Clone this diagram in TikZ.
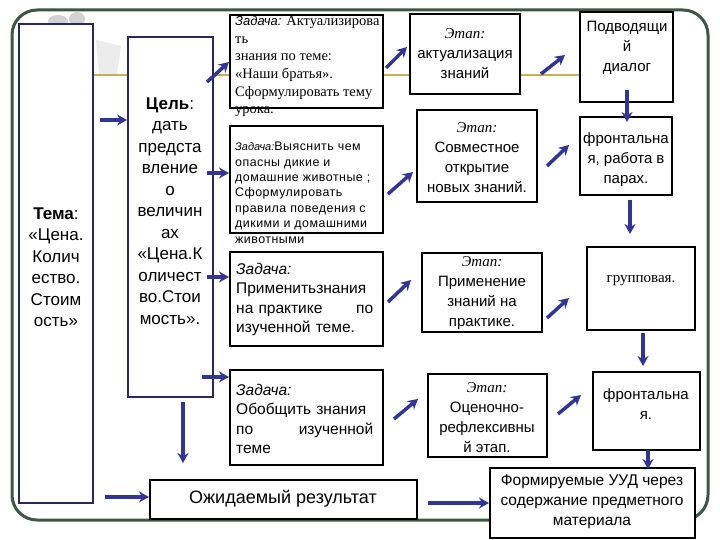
\documentclass[tikz,border=0pt]{standalone}
\usepackage{fontspec}
\setmainfont{Liberation Sans}
\setsansfont{Liberation Sans}
\newfontfamily\serifrm{Liberation Serif}
\newfontfamily\sansrm{Liberation Sans}
\newfontfamily\sanswide[LetterSpace=4]{Liberation Sans}
\usetikzlibrary{arrows.meta}
\definecolor{arrowc}{RGB}{52,52,150}
\definecolor{framec}{RGB}{62,85,72}
\definecolor{navyb}{RGB}{40,40,90}
\definecolor{goldl}{RGB}{195,178,80}
\newcommand\boxnode[6]{%
  \node[#1,minimum width={(#5-#3)*1pt},minimum height={(#6-#4)*1pt}] (#2) at ({(#3+#5)/2},{(#4+#6)/2}) {};}
\begin{document}
\begin{tikzpicture}[x=1pt,y=-1pt,
  bx/.style={draw=black,line width=2pt,fill=white,inner sep=0pt},
  nb/.style={draw=navyb,line width=1.8pt,fill=white,inner sep=0pt},
  ar/.style={draw=arrowc,line width=3.5pt,-{Stealth[length=10pt,width=11pt]}},
  txt/.style={inner sep=0pt,align=center},
  ltxt/.style={inner sep=0pt,align=left,anchor=north west},
  mid/.style={font=\fontsize{15}{20}\selectfont},
]
\useasboundingbox (0,0) rectangle (720,540);
\fill[white] (0,0) rectangle (720,540);
% faint template logo
\fill[gray!35] (58,21) ellipse [x radius=10pt, y radius=6pt];
\fill[gray!35] (77,19) ellipse [x radius=8pt, y radius=7pt];
\fill[gray!15] (96,40) -- (121,46) -- (117,74) -- (99,74) -- cycle;
% frame
\draw[framec,line width=3pt,rounded corners=25pt] (12,10) rectangle (708,520);
\draw[goldl,line width=2.5pt] (93,75) -- (580,75);
% left boxes
\boxnode{nb}{tema}{19}{24}{93}{503}
\boxnode{nb}{cel}{128}{37}{213}{397}
\node[txt,font=\fontsize{17}{21.5}\selectfont] (temat) at (56,267) {\textbf{Тема}:\\«Цена.\\Колич\\ество.\\Стоим\\ость»};
\node[txt,font=\fontsize{17}{21.5}\selectfont] (celt) at (170,211) {\textbf{Цель}:\\дать\\предста\\вление\\о\\величин\\ах\\«Цена.К\\оличест\\во.Стои\\мость».};
% task boxes
\boxnode{bx}{t1}{230}{15}{383}{108}
\boxnode{bx}{t2}{230}{126}{383}{233}
\boxnode{bx}{t3}{230}{252}{383}{346}
\boxnode{bx}{t4}{230}{370}{383}{465}
\node[ltxt,font=\serifrm\fontsize{14.5}{17.6}\selectfont] (t1t) at (235,16) {{\sansrm\itshape\fontsize{13}{17.6}\selectfont Задача:} Актуализирова\\ть\\знания по теме:\\«Наши братья».\\Сформулировать тему\\урока.};
\node[ltxt,font=\sanswide\fontsize{12.4}{15.4}\selectfont] (t2t) at (235,142) {{\sansrm\itshape\fontsize{11}{15.4}\selectfont Задача:}Выяснить чем\\опасны дикие и\\домашние животные ;\\Сформулировать\\правила поведения с\\дикими и домашними\\животными};
\node[ltxt,text width=137pt,font=\fontsize{15.5}{19.5}\selectfont] (t3t) at (236,263) {\textit{Задача:}\\Применитьзнания\\\makebox[137pt]{на практике\hfill по}\\изученной теме.};
\node[ltxt,text width=137pt,font=\fontsize{15.5}{19.5}\selectfont] (t4t) at (236,384) {\textit{Задача:}\\Обобщить знания\\\makebox[137pt]{по\hfill изученной}\\теме};
% result
\boxnode{bx}{ozh}{150}{480}{417}{519}
\node[txt,font=\fontsize{18}{20}\selectfont] (ozht) at (283,499) {Ожидаемый результат};
% stage boxes
\boxnode{bx}{e1}{410}{14}{520}{94}
\boxnode{bx}{e2}{417}{110}{537}{202}
\boxnode{bx}{e3}{422}{253}{542}{332}
\boxnode{bx}{e4}{428}{374}{547}{457}
\node[txt,mid] (e1t) at (465,54) {{\serifrm\itshape Этап:}\\актуализация\\знаний};
\node[txt,mid] (e2t) at (477,158) {{\serifrm\itshape Этап:}\\Совместное\\открытие\\новых знаний.};
\node[txt,mid] (e3t) at (482,293) {{\serifrm\itshape Этап:}\\Применение\\знаний на\\практике.};
\node[txt,mid] (e4t) at (487,418) {{\serifrm\itshape Этап:}\\Оценочно-\\рефлексивны\\й этап.};
% form boxes
\boxnode{bx}{pod}{580}{12}{673}{102}
\boxnode{bx}{fr1}{580}{117}{672}{195}
\boxnode{bx}{grp}{587}{247}{695}{330}
\boxnode{bx}{fr2}{593}{372}{700}{450}
\boxnode{bx}{uud}{490}{468}{695}{538}
\node[txt,mid] (podt) at (627,48) {Подводящи\\й\\диалог};
\node[txt,mid] (fr1t) at (626,160) {фронтальна\\я, работа в\\парах.};
\node[txt,font=\serifrm\fontsize{15}{18}\selectfont] (grpt) at (641,281) {групповая.};
\node[txt,mid] (fr2t) at (646,404) {фронтальна\\я.};
\node[txt,font=\fontsize{15.5}{20}\selectfont] (uudt) at (592,502) {Формируемые УУД через\\содержание предметного\\материала};
% arrows
\coordinate (a0) at (100,120);
\draw[ar] (a0) -- (cel.west |- a0);
\coordinate (a1s) at (207,82); \coordinate (a1e) at (229,62);
\draw[ar] (a1s) -- (a1e);
\coordinate (a2) at (207,173);
\draw[ar] (a2) -- (t2.west |- a2);
\coordinate (a3) at (207,277);
\draw[ar] (a3) -- (t3.west |- a3);
\coordinate (a4) at (202,377);
\draw[ar] (a4) -- (t4.west |- a4);
\coordinate (a5s) at (183,402); \coordinate (a5e) at (183,463);
\draw[ar] (a5s) -- (a5e);
\coordinate (a6) at (105,497);
\draw[ar] (a6) -- (ozh.west |- a6);
\coordinate (a7s) at (428,503);
\draw[ar] (a7s) -- (uud.west |- a7s);
% diagonal arrows to stages
\coordinate (b1s) at (386,68); \coordinate (b1e) at (407,47);
\draw[ar] (b1s) -- (b1e);
\coordinate (b2s) at (388,194); \coordinate (b2e) at (413,172);
\draw[ar] (b2s) -- (b2e);
\coordinate (b3s) at (388,302); \coordinate (b3e) at (411,280);
\draw[ar] (b3s) -- (b3e);
\coordinate (b4s) at (394,419); \coordinate (b4e) at (418,399);
\draw[ar] (b4s) -- (b4e);
% diagonal arrows to forms
\coordinate (c1s) at (541,74); \coordinate (c1e) at (565,55);
\draw[ar] (c1s) -- (c1e);
\coordinate (c2s) at (547,166); \coordinate (c2e) at (569,145);
\draw[ar] (c2s) -- (c2e);
\coordinate (c3s) at (547,318); \coordinate (c3e) at (569,298);
\draw[ar] (c3s) -- (c3e);
\coordinate (c4s) at (558,414); \coordinate (c4e) at (581,395);
\draw[ar] (c4s) -- (c4e);
% vertical arrows
\coordinate (d1s) at (627,90); \coordinate (d1e) at (627,122);
\draw[ar] (d1s) -- (d1e);
\coordinate (d2s) at (630,200); \coordinate (d2e) at (630,234);
\draw[ar] (d2s) -- (d2e);
\coordinate (d3s) at (643,333); \coordinate (d3e) at (643,366);
\draw[ar] (d3s) -- (d3e);
\coordinate (d4s) at (648,450); \coordinate (d4e) at (648,469);
\draw[ar] (d4s) -- (d4e);
\end{tikzpicture}
\end{document}
